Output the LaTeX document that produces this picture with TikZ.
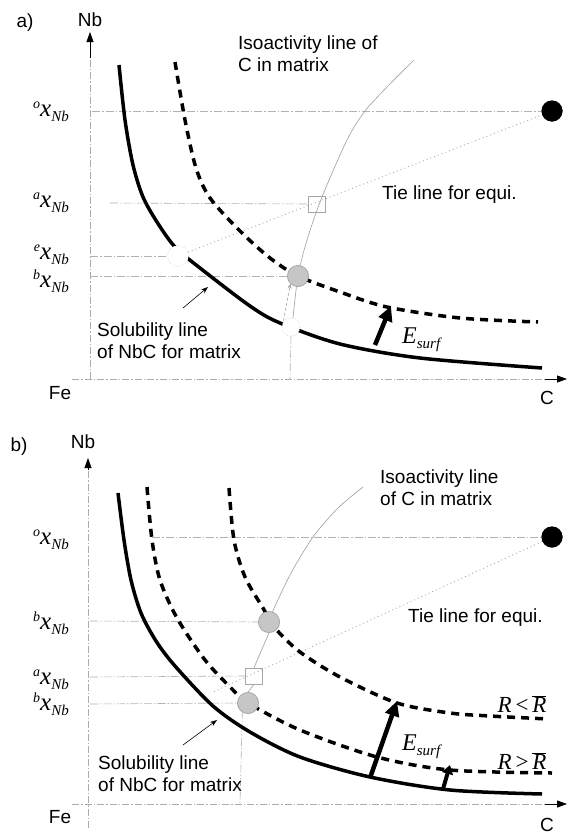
\documentclass[tikz,border=0pt]{standalone}
\usepackage{fontspec}
\setmainfont{Liberation Sans}
\newfontfamily\tms{Liberation Serif}
\usetikzlibrary{arrows.meta}
\newcommand{\xnb}[1]{{\fontsize{25}{26}\selectfont\tms\itshape\raisebox{8pt}{\fontsize{14}{15}\selectfont #1}x\raisebox{-5pt}{\fontsize{15}{16}\selectfont Nb}}}
\newcommand{\esurf}{{\fontsize{24}{25}\selectfont\tms\itshape E\raisebox{-5pt}{\fontsize{15}{16}\selectfont surf}}}
\newcommand{\rr}[1]{{\fontsize{23}{24}\selectfont\tms\itshape R\,\upshape#1\,\itshape$\overline{\hbox{\tms\itshape R}}$}}
\begin{document}
\begin{tikzpicture}[x=1pt,y=-1pt,
  lbl/.style={font=\fontsize{19}{22}\selectfont, inner sep=0pt},
  axisline/.style={draw=gray!65, line width=0.7pt, dash pattern=on 7pt off 2pt on 1.5pt off 2pt},
  guide/.style={draw=gray!60, line width=0.6pt, dash pattern=on 8pt off 2pt on 1.5pt off 2pt},
  solidcurve/.style={line width=3.5pt},
  dashcurve/.style={line width=3.5pt, dash pattern=on 8pt off 6pt},
  iso/.style={draw=gray!75, line width=0.6pt},
  tie/.style={draw=gray!70, line width=0.8pt, dash pattern=on 1pt off 3pt},
  graydot/.style={circle, draw=gray!70, fill=gray!45, minimum size=21pt, inner sep=0pt, line width=0.6pt},
  blackdot/.style={circle, fill=black, minimum size=21pt, inner sep=0pt},
  opendot/.style={circle, draw=gray!60, fill=white, dotted, minimum size=21pt, inner sep=0pt},
  sqmark/.style={draw=gray!70, line width=0.6pt, minimum width=17pt, minimum height=16pt, inner sep=0pt},
  bigarrow/.style={line width=4.5pt, -{Triangle[length=15pt,width=14pt]}},
  thinarrow/.style={line width=0.6pt, -{Stealth[length=7pt,width=5pt]}},
  axarrow/.style={line width=0.8pt, -{Triangle[length=10pt,width=7pt]}}
]
\useasboundingbox[fill=white] (0,0) rectangle (568,836);

%%%%%%%%%%%%%%%% Panel a
\coordinate (ay0) at (90,379);
\coordinate (ay1) at (90,58);
\coordinate (aytip) at (90,32);
\coordinate (ax0) at (72,379);
\coordinate (ax1) at (545,379);
\coordinate (axtip) at (567,379);
\draw[axisline] (ay0) -- (ay1);
\draw[axarrow] (ay1) -- (aytip);
\draw[axisline] (ax0) -- (ax1);
\draw[axarrow] (ax1) -- (axtip);

% nodes of panel a
\node[blackdot] (aO) at (552,111) {};
\node[opendot] (aE) at (178,256) {};
\node[graydot] (aB) at (298,276) {};
\node[opendot, minimum size=18pt] (aL) at (291,327) {};
\node[sqmark] (aA) at (317,204) {};

% guide lines
\coordinate (ago) at (92,111);
\coordinate (aga) at (110,203);
\coordinate (age) at (90,256);
\coordinate (agb) at (90,276);
\coordinate (agv) at (290,379);
\draw[guide] (ago) -- (aO.west);
\draw[guide] (aga) -- (aA.west);
\draw[guide] (age) -- (aE.west);
\draw[guide] (agb) -- (aB.west);
\draw[guide] (aL.south) -- (agv);

% tie line
\draw[tie] (aE) -- (aO);

% isoactivity line
\draw[iso] plot[smooth] coordinates {(414,60) (388,86) (365,111) (347,140) (322,197) (307,240) (298,276) (293,318)};
\draw[gray!70, line width=0.6pt, dash pattern=on 3pt off 2pt, -{Stealth[length=5pt,width=4pt]}] (aL.north west) ++(-1,0) -- (aB.south west);

% curves
\draw[solidcurve] plot[smooth] coordinates {(119,65) (125,120) (133,165) (143,197) (157,222) (175,247) (200,268) (250,306) (280,323) (340,344) (420,358) (542,368)};
\draw[dashcurve] plot[smooth] coordinates {(175,62) (185,120) (196,168) (210,198) (240,231) (270,258) (298,276) (340,292) (387,307) (460,318) (538,322)};

% redraw dots on top
\node[opendot] at (aE) {};
\node[opendot, minimum size=18pt] at (aL) {};
\node[graydot] at (aB) {};
\node[blackdot] at (aO) {};

% E_surf arrow
\coordinate (aes0) at (375,345);
\coordinate (aes1) at (391,306);
\draw[bigarrow] (aes0) -- (aes1);
\node[lbl, anchor=west] (aEs) at (402,340) {\esurf};

% labels
\node[lbl] (alab) at (25,23) {a)};
\node[lbl] (aNb) at (90,20) {Nb};
\node[lbl] (aFe) at (60,393) {Fe};
\node[lbl] (aC) at (547,398) {C};
\node[lbl, anchor=east] (axo) at (69,112) {\xnb{o}};
\node[lbl, anchor=east] (axa) at (69,203) {\xnb{a}};
\node[lbl, anchor=east] (axe) at (69,255) {\xnb{e}};
\node[lbl, anchor=east] (axb) at (69,281) {\xnb{b}};
\node[lbl, anchor=west, align=left] (aIso) at (238,54) {Isoactivity line of\\C in matrix};
\node[lbl, anchor=west] (aTie) at (382,195) {Tie line for equi.};
\node[lbl, anchor=west, align=left] (aSol) at (97,341) {Solubility line\\of NbC for matrix};
\coordinate (asa0) at (183,308);
\coordinate (asa1) at (208,287);
\draw[thinarrow] (asa0) -- (asa1);

%%%%%%%%%%%%%%%% Panel b
\coordinate (by0) at (88,828);
\coordinate (by1) at (88,470);
\coordinate (bytip) at (88,458);
\coordinate (bx0) at (72,804);
\coordinate (bx1) at (545,804);
\coordinate (bxtip) at (567,804);
\draw[axisline] (by0) -- (by1);
\draw[axarrow] (by1) -- (bytip);
\draw[axisline] (bx0) -- (bx1);
\draw[axarrow] (bx1) -- (bxtip);

\node[blackdot] (bO) at (552,537) {};
\node[graydot] (bU) at (269,622) {};
\node[graydot] (bL) at (248,703) {};
\node[sqmark] (bA) at (254,676) {};

\coordinate (bgo) at (152,537);
\coordinate (bgu) at (90,621);
\coordinate (bga) at (90,677);
\coordinate (bgl) at (90,704);
\coordinate (bgv) at (240,804);
\coordinate (btie) at (213,692);
\draw[guide] (bgo) -- (bO.west);
\draw[guide] (bgu) -- (bU.west);
\draw[guide] (bga) -- (bA.west);
\draw[guide] (bgl) -- (bL.west);
\draw[guide] (bL.south west) ++(2,0) -- (bgv);

\draw[tie] (bO) -- (btie);

\draw[iso] plot[smooth] coordinates {(363,487) (338,508) (313,537) (290,575) (272,613) (269,622)};
\draw[iso] (bU.south) -- (bA.north) (bA.south) -- (bL.north);

\draw[solidcurve] plot[smooth] coordinates {(118,493) (124,540) (131,580) (141,613) (156,641) (175,666) (213,706) (250,732) (300,757) (370,777) (450,790) (542,794)};
\draw[dashcurve] plot[smooth] coordinates {(147,487) (152,540) (160,580) (177,618) (205,660) (233,690) (248,703) (300,730) (377,757) (450,770) (552,773)};
\draw[dashcurve] plot[smooth] coordinates {(229,488) (234,540) (245,577) (263,608) (275,628) (300,652) (340,677) (397,703) (450,713) (490,716) (548,719)};

\node[graydot] at (bU) {};
\node[graydot] at (bL) {};
\node[blackdot] at (bO) {};

\coordinate (bes0) at (370,778);
\coordinate (bes1) at (397,701);
\draw[bigarrow] (bes0) -- (bes1);
\coordinate (bsm0) at (443,789);
\coordinate (bsm1) at (450,765);
\draw[line width=4pt, -{Triangle[length=9pt,width=11pt]}] (bsm0) -- (bsm1);
\node[lbl, anchor=west] (bEs) at (402,747) {\esurf};

\node[lbl] (blab) at (19,447) {b)};
\node[lbl] (bNb) at (83,442) {Nb};
\node[lbl] (bFe) at (60,817) {Fe};
\node[lbl] (bC) at (547,825) {C};
\node[lbl, anchor=east] (bxo) at (69,540) {\xnb{o}};
\node[lbl, anchor=east] (bxu) at (69,623) {\xnb{b}};
\node[lbl, anchor=east] (bxa) at (69,680) {\xnb{a}};
\node[lbl, anchor=east] (bxl) at (69,704) {\xnb{b}};
\node[lbl, anchor=west, align=left] (bIso) at (380,488) {Isoactivity line\\of C in matrix};
\node[lbl, anchor=west] (bTie) at (408,618) {Tie line for equi.};
\node[lbl, anchor=west, align=left] (bSol) at (98,774) {Solubility line\\of NbC for matrix};
\coordinate (bsa0) at (183,745);
\coordinate (bsa1) at (217,720);
\draw[thinarrow] (bsa0) -- (bsa1);
\node[lbl, anchor=center] (bRl) at (522,704) {\rr{<}};
\node[lbl, anchor=center] (bRg) at (522,761) {\rr{>}};
\end{tikzpicture}
\end{document}
